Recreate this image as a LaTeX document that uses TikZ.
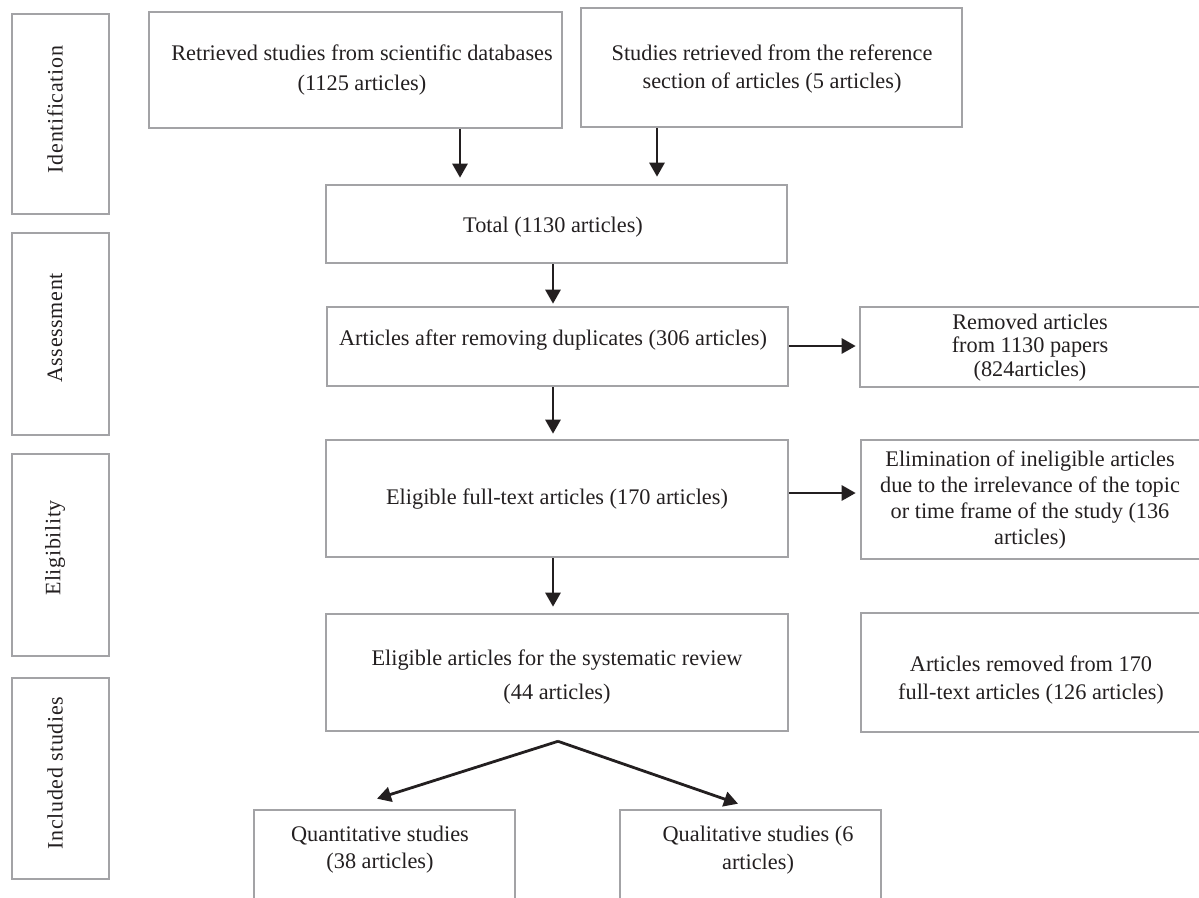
\documentclass[tikz,border=0pt]{standalone}
\usepackage{fontspec}
\setmainfont{Liberation Serif}
\newfontfamily\sidefont[LetterSpace=3]{Liberation Serif}
\usetikzlibrary{arrows.meta,calc}
\definecolor{boxgray}{RGB}{163,163,166}
\definecolor{arrowblack}{RGB}{35,31,32}
\begin{document}
\begin{tikzpicture}[x=1pt,y=-1pt,
  box/.style={draw=boxgray, line width=2.6pt, rectangle, inner sep=0pt},
  txt/.style={align=center, inner sep=0pt, text=arrowblack, font=\fontsize{22.3pt}{#1}\selectfont},
  txt/.default=28pt,
  side/.style={inner sep=0pt, rotate=90, text=arrowblack, font=\sidefont\fontsize{22pt}{26pt}\selectfont},
  arr/.style={draw=arrowblack, line width=2.8pt, -{Triangle[length=14pt,width=15pt]}},
]
\useasboundingbox (0,0) rectangle (1199,897);
\clip (0,0) rectangle (1199,897);

% phase boxes
\node[box, minimum width=97pt, minimum height=200pt] (pI) at (60.5,114) {};
\node[box, minimum width=97pt, minimum height=202pt] (pA) at (60.5,334) {};
\node[box, minimum width=97pt, minimum height=202pt] (pE) at (60.5,555) {};
\node[box, minimum width=97pt, minimum height=201pt] (pS) at (60.5,778.5) {};
\node[side] (lI) at (55,109.5) {Identification};
\node[side] (lA) at (55,328) {Assessment};
\node[side] (lE) at (55,548) {Eligibility};
\node[side] (lS) at (55,773) {Included studies};

% main boxes
\node[box, minimum width=413pt, minimum height=116pt] (A) at (355.5,70) {};
\node[box, minimum width=381pt, minimum height=119pt] (B) at (771.5,67.5) {};
\node[box, minimum width=461pt, minimum height=78pt] (Tot) at (556.5,224) {};
\node[box, minimum width=461pt, minimum height=79pt] (Dup) at (557.5,346.5) {};
\node[box, minimum width=462pt, minimum height=117pt] (Full) at (557,498.5) {};
\node[box, minimum width=462pt, minimum height=117pt] (Elig) at (557,672.5) {};
\node[box, minimum width=261pt, minimum height=150pt] (Quant) at (384.5,885) {};
\node[box, minimum width=261pt, minimum height=150pt] (Qual) at (750.5,885) {};
\node[box, minimum width=343pt, minimum height=80pt] (Rem) at (1031.5,347) {};
\node[box, minimum width=342pt, minimum height=119pt] (Elim) at (1032,499.5) {};
\node[box, minimum width=342pt, minimum height=119pt] (ArtRem) at (1032,672.5) {};

% texts
\node[txt=30pt] (tA) at (362,70) {Retrieved studies from scientific databases\\(1125 articles)};
\node[txt=28pt] (tB) at (772,69) {Studies retrieved from the reference\\section of articles (5 articles)};
\node[txt] (tTot) at (553,227) {Total (1130 articles)};
\node[txt] (tDup) at (553,340) {Articles after removing duplicates (306 articles)};
\node[txt] (tFull) at (557,499) {Eligible full-text articles (170 articles)};
\node[txt=34pt] (tElig) at (557,677) {Eligible articles for the systematic review\\(44 articles)};
\node[txt=27pt] (tQuant) at (380,849.5) {Quantitative studies\\(38 articles)};
\node[txt=28pt] (tQual) at (758,850) {Qualitative studies (6\\articles)};
\node[txt=23.5pt] (tRem) at (1030,347.5) {Removed articles\\from 1130 papers\\(824articles)};
\node[txt=26pt] (tElim) at (1030,500.5) {Elimination of ineligible articles\\due to the irrelevance of the topic\\or time frame of the study (136\\articles)};
\node[txt=28pt] (tArt) at (1031,680) {Articles removed from 170\\full-text articles (126 articles)};

% connectors
\coordinate (xA) at (460,0);
\coordinate (xB) at (657,0);
\coordinate (xM) at (553,0);
\coordinate (yR1) at (0,346);
\coordinate (yR2) at (0,493);
\draw[arr, shorten >=6pt] (A.south -| xA) -- (Tot.north -| xA);
\draw[arr, shorten >=7pt] (B.south -| xB) -- (Tot.north -| xB);
\draw[arr, shorten >=2pt] (Tot.south -| xM) -- (Dup.north -| xM);
\draw[arr, shorten >=5pt] (Dup.south -| xM) -- (Full.north -| xM);
\draw[arr, shorten >=6pt] (Full.south -| xM) -- (Elig.north -| xM);
\draw[arr, shorten >=3pt] (Dup.east |- yR1) -- (Rem.west |- yR1);
\draw[arr, shorten >=4pt] (Full.east |- yR2) -- (Elim.west |- yR2);
\coordinate (split) at ([xshift=1pt,yshift=-9pt]Elig.south);
\coordinate (tipL) at ([xshift=-7.5pt,yshift=10pt]Quant.north);
\coordinate (tipR) at ([xshift=-12.5pt,yshift=5pt]Qual.north);
\draw[arr] (split) -- (tipL);
\draw[arr] (split) -- (tipR);
\end{tikzpicture}
\end{document}
